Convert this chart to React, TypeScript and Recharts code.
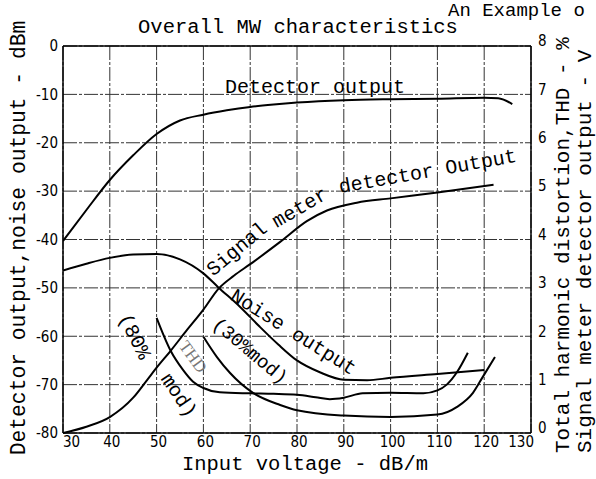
import React from "react";
import { LineChart, Line, XAxis, YAxis, CartesianGrid, ReferenceLine, ReferenceDot } from "recharts";

// axis ticks
const xTicks = [30, 40, 50, 60, 70, 80, 90, 100, 110, 120, 130];
const leftTicks = [-80, -70, -60, -50, -40, -30, -20, -10, 0];
const rightTicks = [0, 1, 2, 3, 4, 5, 6, 7, 8];

// Detector output, dBm (left axis)
const detectorX = [30, 35, 40, 45, 50, 55, 60, 65, 70, 75, 80, 90, 100, 110, 120, 123, 126];
const detectorY = [-40.3, -33.9, -27.7, -22.6, -18.2, -15.4, -14.2, -13.3, -12.6, -12.1, -11.7, -11.2, -11, -10.9, -10.7, -10.8, -12];

// Noise output, dBm (left axis)
const noiseX = [30, 35, 40, 45, 50, 55, 60, 63.2, 67.8, 72, 76, 80, 85, 90, 95, 100, 110, 120];
const noiseY = [-46.4, -45, -43.8, -43.1, -43, -44.1, -47, -49.9, -53.9, -58, -61.7, -65, -67.5, -69, -69.1, -68.6, -67.8, -67];

// Signal meter detector output, V (right axis)
const signalX = [30, 35, 40, 45, 48, 50, 53, 56.5, 60, 63.2, 66.5, 70, 76.4, 82.1, 86.4, 92.8, 100, 110, 122];
const signalY = [0, 0.13, 0.33, 0.73, 1.1, 1.35, 1.7, 2.13, 2.55, 2.98, 3.25, 3.49, 3.95, 4.38, 4.6, 4.76, 4.85, 4.97, 5.13];

// THD at 80% mod, % (right axis)
const thd80X = [50, 53, 55.6, 57.8, 60, 63.5, 70, 75, 80, 84, 87, 90, 94, 100, 107, 110, 112, 114.2, 116.5];
const thd80Y = [2.38, 1.7, 1.31, 1.06, 0.93, 0.84, 0.82, 0.81, 0.79, 0.74, 0.7, 0.73, 0.82, 0.83, 0.82, 0.88, 1.0, 1.26, 1.66];

// THD at 30% mod, % (right axis)
const thd30X = [60, 62.9, 65.7, 70.6, 76.4, 80, 90, 100, 110, 114.2, 117.6, 119.7, 122.3];
const thd30Y = [1.99, 1.57, 1.24, 0.83, 0.58, 0.47, 0.36, 0.33, 0.38, 0.54, 0.83, 1.16, 1.57];

const zip = (xs: number[], ys: number[]) => xs.map((x, i) => ({ x, v: ys[i] }));

const mono = '"Liberation Mono", "DejaVu Sans Mono", monospace';
const narrow = '"Liberation Sans Narrow", "DejaVu Sans Condensed", "Liberation Sans", sans-serif';

// in-plot captions, placed in data coordinates (left axis units)
const notes = [
  { text: "Detector output", x: 64.6, y: -9.7, angle: 0 },
  { text: "Signal", x: 62.1, y: -47.7, angle: -40 },
  { text: "meter", x: 75.7, y: -37.6, angle: -30 },
  { text: "detector Output", x: 89.2, y: -30.4, angle: -10 },
  { text: "Noise output", x: 65.5, y: -52.3, angle: 32 },
  { text: "(30%mod)", x: 61.7, y: -57.9, angle: 40, size: 19 },
  { text: "THD", x: 54.6, y: -62.0, angle: 54, size: 17, serif: true },
  { text: "(80%", x: 41.8, y: -56.2, angle: 63 },
  { text: "mod)", x: 50.8, y: -68.8, angle: 56 },
];

const XTick = (p: any) => {
  const v = p.payload.value;
  const anchor = v === 30 ? "start" : v === 130 ? "end" : "middle";
  const dx = v === 30 ? 0 : v === 130 ? 3 : 2;
  return (
    <text x={p.x + dx} y={p.y} dy="0.71em" textAnchor={anchor} fontFamily={narrow} fontSize={15} fill="#000">
      {v}
    </text>
  );
};

const RTick = (p: any) => (
  <text x={p.x} y={p.y - 5} dy="0.35em" textAnchor="start" fontFamily={narrow} fontSize={15} fill="#000">
    {p.payload.value}
  </text>
);

export default function App() {
  return (
    <div style={{ position: "absolute", left: 0, top: 0, width: 596, height: 479, background: "#fff" }}>
      <LineChart width={596} height={479} margin={{ top: 46, right: 0, bottom: 16, left: 0 }}>
        <XAxis
          xAxisId="x"
          type="number"
          dataKey="x"
          domain={[30, 130]}
          ticks={xTicks}
          allowDataOverflow
          height={30}
          tickLine={false}
          tickSize={3}
          tickMargin={0}
          tick={<XTick />}
          axisLine={{ stroke: "#000", strokeWidth: 1.5 }}
        />
        <YAxis
          yAxisId="l"
          domain={[-80, 0]}
          ticks={leftTicks}
          width={63}
          tickLine={false}
          tickSize={5}
          tickMargin={0}
          tick={{ fontFamily: narrow, fontSize: 15, fill: "#000" }}
          axisLine={{ stroke: "#000", strokeWidth: 1.5 }}
        />
        <YAxis
          yAxisId="r"
          orientation="right"
          domain={[0, 8]}
          ticks={rightTicks}
          width={65}
          tickLine={false}
          tickSize={5}
          tickMargin={2}
          tick={<RTick />}
          axisLine={{ stroke: "#000", strokeWidth: 1.5 }}
        />
        <CartesianGrid xAxisId="x" yAxisId="l" stroke="#333" strokeWidth={1} strokeDasharray="14 2 3 2" />
        <ReferenceLine xAxisId="x" yAxisId="l" y={0} stroke="#000" strokeWidth={1.5} />
        <Line xAxisId="x" yAxisId="l" data={zip(detectorX, detectorY)} dataKey="v" type="monotone" stroke="#000" strokeWidth={2} dot={false} isAnimationActive={false} />
        <Line xAxisId="x" yAxisId="l" data={zip(noiseX, noiseY)} dataKey="v" type="monotone" stroke="#000" strokeWidth={2} dot={false} isAnimationActive={false} />
        <Line xAxisId="x" yAxisId="r" data={zip(signalX, signalY)} dataKey="v" type="monotone" stroke="#000" strokeWidth={2} dot={false} isAnimationActive={false} />
        <Line xAxisId="x" yAxisId="r" data={zip(thd80X, thd80Y)} dataKey="v" type="monotone" stroke="#000" strokeWidth={2} dot={false} isAnimationActive={false} />
        <Line xAxisId="x" yAxisId="r" data={zip(thd30X, thd30Y)} dataKey="v" type="monotone" stroke="#000" strokeWidth={2} dot={false} isAnimationActive={false} />
        {notes.map((n, i) => (
          <ReferenceDot
            key={i}
            xAxisId="x"
            yAxisId="l"
            x={n.x}
            y={n.y}
            r={1}
            ifOverflow="visible"
            shape={() => <g />}
            label={(p: any) => {
              const vb = p.viewBox || { x: 0, y: 0, width: 0, height: 0 };
              const cx = vb.x + (vb.width || 0) / 2;
              const cy = vb.y + (vb.height || 0) / 2;
              return (
                <text
                  x={cx}
                  y={cy}
                  transform={`rotate(${n.angle} ${cx} ${cy})`}
                  fontFamily={n.serif ? '"Liberation Serif", serif' : mono}
                  fontSize={n.size || 20}
                  fill={n.serif ? "#777" : "#000"}
                >
                  {n.text}
                </text>
              );
            }}
          />
        ))}
      </LineChart>
      <svg width={596} height={479} style={{ position: "absolute", left: 0, top: 0, pointerEvents: "none" }}>
        <g fontFamily={mono} fill="#000">
          <text x={448} y={16} fontSize={19}>An Example o</text>
          <text x={298} y={33} fontSize={20.5} textAnchor="middle">Overall MW characteristics</text>
          <text x={305} y={470} fontSize={20.5} textAnchor="middle">Input voltage - dB/m</text>
          <text x={25} y={238} fontSize={21.3} textAnchor="middle" transform="rotate(-90 25 238)">
            Detector output,noise output - dBm
          </text>
          <text x={569} y={453} fontSize={21} textAnchor="start" transform="rotate(-90 569 453)">
            Total harmonic distortion,THD - %
          </text>
          <text x={591} y={453} fontSize={21} textAnchor="start" transform="rotate(-90 591 453)">
            Signal meter detector output - V
          </text>
        </g>
      </svg>
    </div>
  );
}
